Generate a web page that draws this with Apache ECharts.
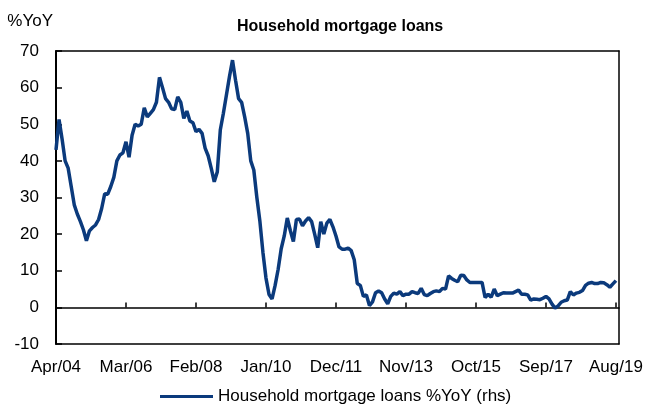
<!DOCTYPE html>
<html>
<head>
<meta charset="utf-8">
<script src="https://cdn.jsdelivr.net/npm/echarts@6/dist/echarts.min.js"></script>
<style>
  html, body { margin: 0; padding: 0; background: #fff; }
  #chart { width: 647px; height: 409px; }
</style>
</head>
<body>
<div id="chart"></div>
<script>
// Monthly series, Apr 2004 to Aug 2019; the axis runs one month further (Sep 2019).
const startYear = 2004;
const startMonth = 3; // April, zero-based
const monthNames = ['Jan','Feb','Mar','Apr','May','Jun','Jul','Aug','Sep','Oct','Nov','Dec'];

// Household mortgage loans, % year on year
const mortgageYoY = [
  43.0, 51.3, 46.0, 40.0, 38.0, 33.0, 28.0, 25.5, 23.5, 21.2,
  18.2, 20.9, 21.8, 22.5, 24.0, 27.0, 31.0, 30.9, 33.0, 35.5,
  40.0, 41.6, 42.2, 45.2, 41.0, 47.0, 50.0, 49.5, 50.0, 54.5,
  52.0, 53.0, 54.0, 56.0, 62.8, 60.0, 57.0, 56.0, 54.2, 54.0,
  57.5, 56.0, 51.6, 53.6, 50.9, 50.4, 48.0, 48.6, 47.5, 43.5,
  41.4, 38.0, 34.3, 37.0, 48.5, 53.0, 58.0, 63.0, 67.5, 62.0,
  57.0, 56.0, 52.0, 47.5, 40.0, 37.5, 30.0, 23.5, 15.0, 8.0,
  3.5, 2.3, 6.0, 10.4, 16.0, 19.5, 24.4, 21.0, 18.0, 24.0,
  24.1, 22.3, 23.6, 24.5, 23.4, 20.0, 16.3, 23.4, 20.0, 23.0,
  24.0, 22.0, 19.5, 16.5, 15.9, 15.9, 16.2, 15.5, 13.0, 6.5,
  6.0, 3.0, 3.4, 0.5, 1.5, 4.0, 4.5, 4.0, 2.3, 1.0,
  3.0, 3.9, 3.6, 4.3, 3.2, 3.6, 3.6, 4.3, 4.0, 3.8,
  5.2, 3.5, 3.2, 3.8, 4.3, 4.5, 4.3, 5.2, 5.0, 8.6,
  7.9, 7.4, 7.0, 8.8, 8.7, 7.5, 6.8, 6.8, 6.8, 6.8,
  6.8, 2.7, 3.6, 2.8, 5.0, 3.2, 3.6, 4.0, 3.9, 3.9,
  3.9, 4.3, 4.7, 3.6, 3.6, 3.4, 2.0, 2.3, 2.2, 2.1,
  2.5, 3.0, 2.3, 0.9, -0.2, 0.4, 1.4, 1.8, 2.0, 4.3,
  3.4, 3.9, 4.1, 4.6, 6.0, 6.6, 6.8, 6.5, 6.5, 6.8,
  6.7, 6.2, 5.5, 6.4, 7.3
];

// Axis categories: one per month, plus the trailing month at the right edge
const months = [];
for (let k = 0; k <= mortgageYoY.length; k++) {
  const m = (startMonth + k) % 12;
  const y = startYear + Math.floor((startMonth + k) / 12);
  months.push(monthNames[m] + '/' + String(y % 100).padStart(2, '0'));
}

const yTicks = { min: -10, max: 70, step: 10 };
const labelEvery = 23; // a tick label every 23 months

const FONT = "'Liberation Sans', Arial, sans-serif";
const INK = '#000000';
const LINE_COLOR = '#0b3a7c';

// Plain frame line used for the box edges (no ticks or labels)
const frameAxis = (extra) => Object.assign({
  axisLine: { show: true, onZero: false, lineStyle: { color: INK, width: 1.5 } },
  axisTick: { show: false },
  axisLabel: { show: false },
  splitLine: { show: false }
}, extra);

const chart = echarts.init(document.getElementById('chart'), null, { renderer: 'canvas' });

chart.setOption({
  backgroundColor: '#ffffff',
  animation: false,
  textStyle: { fontFamily: FONT, color: INK },
  title: {
    text: 'Household mortgage loans',
    left: 232,
    top: 14,
    textStyle: { fontFamily: FONT, fontWeight: 'bold', fontSize: 16, color: INK }
  },
  legend: {
    data: ['Household mortgage loans %YoY (rhs)'],
    left: 155,
    top: 383,
    icon: 'rect',
    itemWidth: 53,
    itemHeight: 3,
    itemGap: 5,
    textStyle: { fontFamily: FONT, fontSize: 17, color: INK }
  },
  grid: {
    left: 56,
    right: 28,
    top: 51,
    bottom: 65
  },
  xAxis: [
    {
      type: 'category',
      data: months,
      boundaryGap: false,
      position: 'bottom',
      axisLine: { show: true, onZero: false, lineStyle: { color: INK, width: 1.5 } },
      axisTick: { show: false },
      axisLabel: {
        interval: labelEvery - 1,
        margin: 15,
        fontFamily: FONT,
        fontSize: 17,
        color: INK
      },
      splitLine: { show: false }
    },
    {
      type: 'category',
      data: months,
      boundaryGap: false,
      position: 'bottom',
      axisLine: { show: true, onZero: true, lineStyle: { color: INK, width: 1.5 } },
      axisTick: { show: true, inside: true, length: 5, interval: labelEvery - 1, lineStyle: { color: INK, width: 1.5 } },
      axisLabel: { show: false },
      splitLine: { show: false }
    },
    frameAxis({ type: 'category', data: months, boundaryGap: false, position: 'top' })
  ],
  yAxis: [
    {
      type: 'value',
      min: yTicks.min,
      max: yTicks.max,
      interval: yTicks.step,
      position: 'left',
      name: '%YoY',
      nameLocation: 'end',
      nameGap: 21,
      nameTextStyle: { fontFamily: FONT, fontSize: 17, color: INK, align: 'right', padding: [0, 3, 0, 0] },
      axisLine: { show: true, onZero: false, lineStyle: { color: INK, width: 2 } },
      axisTick: { show: true, inside: true, length: 6, lineStyle: { color: INK, width: 1.5 } },
      axisLabel: { margin: 17, fontFamily: FONT, fontSize: 17, color: INK },
      splitLine: { show: false }
    },
    frameAxis({ type: 'value', min: yTicks.min, max: yTicks.max, interval: yTicks.step, position: 'right' })
  ],
  series: [
    {
      name: 'Household mortgage loans %YoY (rhs)',
      type: 'line',
      xAxisIndex: 0,
      yAxisIndex: 0,
      data: mortgageYoY,
      showSymbol: false,
      symbol: 'none',
      smooth: false,
      lineStyle: { color: LINE_COLOR, width: 3.5 },
      itemStyle: { color: LINE_COLOR }
    }
  ]
});
</script>
</body>
</html>
